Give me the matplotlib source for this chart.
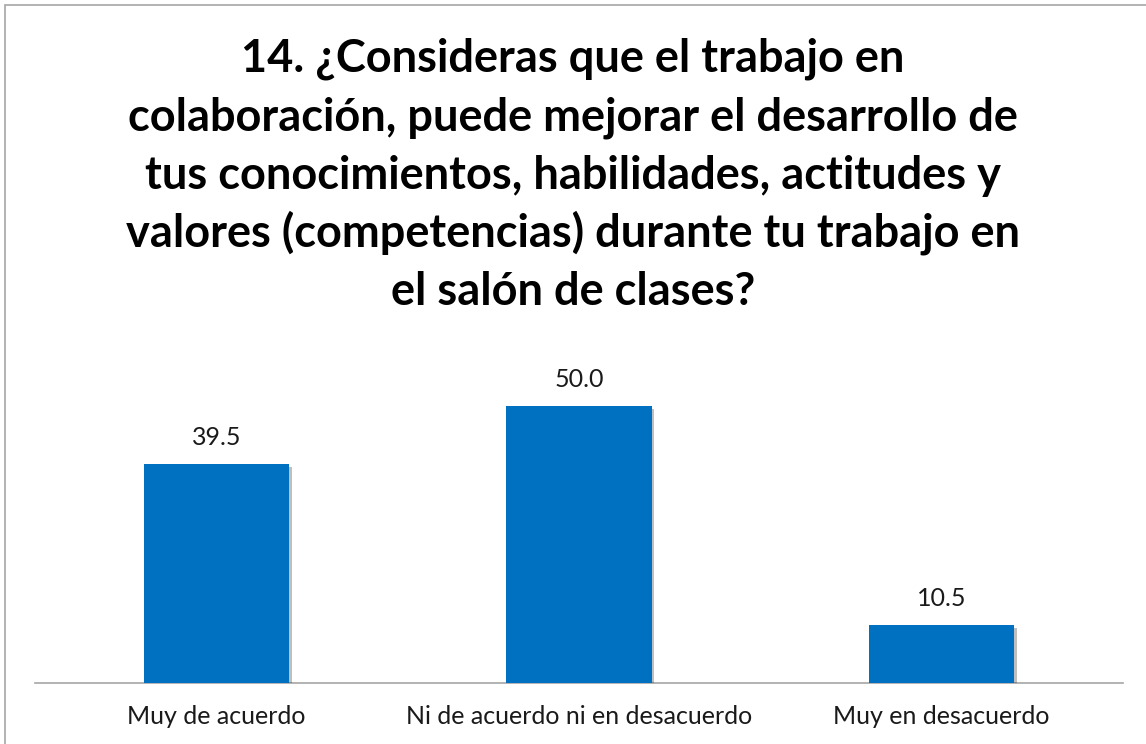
import matplotlib
matplotlib.use("Agg")
import matplotlib.pyplot as plt
import matplotlib.patheffects as pe
from matplotlib.patches import Rectangle

categories = ["Muy de acuerdo", "Ni de acuerdo ni en desacuerdo", "Muy en desacuerdo"]
values = [39.5, 50.0, 10.5]
title_lines = [
    "14. ¿Consideras que el trabajo en",
    "colaboración, puede mejorar el desarrollo de",
    "tus conocimientos, habilidades, actitudes y",
    "valores (competencias) durante tu trabajo en",
    "el salón de clases?",
]

plt.rcParams['font.family'] = ['Lato', 'DejaVu Sans']

W, H = 1146, 744
fig = plt.figure(figsize=(W / 100, H / 100), dpi=100)

# chart area border (Excel-style frame), only top and left are visible
fig.patches.append(Rectangle((5 / W, -0.2), 1.2, 1.2 - 5 / H, transform=fig.transFigure,
                             fill=False, edgecolor='#a6a6a6', linewidth=1.2))

ax = fig.add_axes([35 / W, 61 / H, 1088 / W, 332 / H])
x = range(len(categories))
bars = ax.bar(x, values, width=0.4, color='#0070C0', zorder=3)
for b in bars:
    b.set_path_effects([pe.SimplePatchShadow(offset=(2, -2), shadow_rgbFace='#000000', alpha=0.25),
                        pe.Normal()])

for xi, v in zip(x, values):
    ax.annotate(f"{v:.1f}", (xi, v), xytext=(0, 13.7), textcoords='offset points',
                ha='center', va='baseline', fontsize=18, color='#1a1a1a')

ax.set_xlim(-0.5, 2.5)
ax.set_ylim(0, 60)
ax.set_xticks(list(x))
ax.set_xticklabels(categories, fontsize=18, color='#1a1a1a')
ax.tick_params(axis='x', length=0, pad=16)
ax.set_yticks([])
for s in ['top', 'right', 'left']:
    ax.spines[s].set_visible(False)
ax.spines['bottom'].set_color('#a6a6a6')
ax.spines['bottom'].set_linewidth(1.2)

for i, line in enumerate(title_lines):
    fig.text(0.5, 1 - (72 + 58.3 * i) / H, line, ha='center', va='baseline',
             fontsize=32.5, fontweight='bold', color='black')

fig.savefig("out.png", dpi=100)
